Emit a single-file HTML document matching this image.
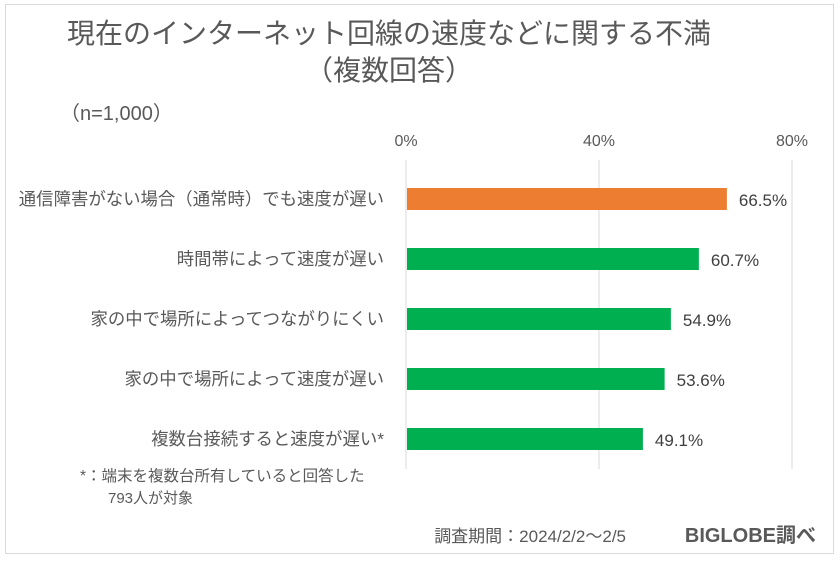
<!DOCTYPE html>
<html><head><meta charset="utf-8"><style>
body{margin:0;width:840px;height:561px;background:#fff;overflow:hidden;font-family:"Liberation Sans","Noto Sans CJK JP",sans-serif;}
#frame{position:absolute;left:5px;top:4px;width:829px;height:550px;border:1.5px solid #d9d9d9;box-sizing:border-box;}
svg{position:absolute;left:0;top:0;}
</style></head><body>
<div id="frame"></div>
<svg id="chart" width="840" height="561">
<text x="389" y="43" font-size="28" fill="#595959" text-anchor="middle">現在のインターネット回線の速度などに関する不満</text>
<text x="389" y="80" font-size="28" fill="#595959" text-anchor="middle">（複数回答）</text>
<text x="60" y="120" font-size="20" fill="#595959">（n=1,000）</text>
<text x="80" y="481" font-size="15.5" fill="#595959">*：端末を複数台所有していると回答した</text>
<text x="108" y="503" font-size="15" fill="#595959">793人が対象</text>
<text x="626" y="542" font-size="17" fill="#595959" text-anchor="end">調査期間：2024/2/2～2/5</text>
<text x="816" y="542" font-size="20" font-weight="bold" fill="#595959" text-anchor="end">BIGLOBE調べ</text>
<g id="grid"></g><g id="bars"></g>
</svg>
<script>
const categories=["通信障害がない場合（通常時）でも速度が遅い","時間帯によって速度が遅い","家の中で場所によってつながりにくい","家の中で場所によって速度が遅い","複数台接続すると速度が遅い*"];
const values=[66.5,60.7,54.9,53.6,49.1];
const ticks=[0,40,80];
const colors=["#ed7d31","#00b050","#00b050","#00b050","#00b050"];
const NS="http://www.w3.org/2000/svg";
const x0=406,x1=792,xmax=80,yTop=169,yBot=469;
const xs=v=>x0+(x1-x0)*v/xmax;
const band=(yBot-yTop)/categories.length;
const yc=i=>yTop+band*(i+0.5);
function mk(t,a){const e=document.createElementNS(NS,t);for(const k in a)e.setAttribute(k,a[k]);return e;}
const grid=document.getElementById('grid'),bars=document.getElementById('bars');
ticks.forEach(t=>{
 const l=mk('line',{x1:xs(t),x2:xs(t),y1:160,y2:yBot,stroke:'#d9d9d9','stroke-width':1});
 
 
 grid.appendChild(l);
 const tx=mk('text',{x:xs(t),y:146,'font-size':16,fill:'#595959','text-anchor':'middle'});
 tx.textContent=t+'%';
 
 
 grid.appendChild(tx);
});
categories.forEach((c,i)=>{
 const y=yc(i);
 const r=mk('rect',{x:x0+1,y:y-11,width:xs(values[i])-x0-1,height:22,fill:colors[i]});
 
 
 bars.appendChild(r);
 const lab=mk('text',{x:384,y:y+6,'font-size':17.4,fill:'#595959','text-anchor':'end'});
 lab.textContent=c;
 
 
 bars.appendChild(lab);
 const v=mk('text',{x:xs(values[i])+12,y:y+7,'font-size':17,fill:'#404040'});
 v.textContent=values[i].toFixed(1)+'%';
 
 
 bars.appendChild(v);
});
</script>
</body></html>
